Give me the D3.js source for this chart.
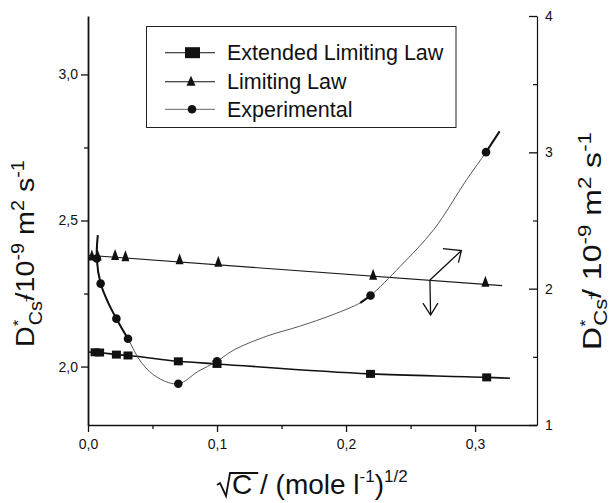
<!DOCTYPE html>
<html>
<head>
<meta charset="utf-8">
<script src="https://cdn.jsdelivr.net/npm/d3@7"></script>
<style>
  html, body { margin: 0; padding: 0; background: #fff; }
  svg { display: block; font-family: "Liberation Sans", Arial, sans-serif; }
</style>
</head>
<body>
<svg id="chart" width="614" height="503"></svg>
<script>
// ---- data: sqrt(C) in (mol/l)^1/2, D* in 1e-9 m^2/s ----
const extX = [0.0055, 0.009, 0.022, 0.031, 0.070, 0.100, 0.219, 0.309];
const extY = [2.049, 2.048, 2.041, 2.038, 2.018, 2.009, 1.975, 1.963];
const extLineX = [0, 0.0055, 0.009, 0.022, 0.031, 0.070, 0.100, 0.219, 0.309, 0.327];
const extLineY = [2.050, 2.049, 2.048, 2.041, 2.038, 2.018, 2.009, 1.975, 1.963, 1.960];

const limX = [0.003, 0.0075, 0.021, 0.029, 0.071, 0.101, 0.221, 0.308];
const limY = [2.378, 2.378, 2.380, 2.376, 2.365, 2.357, 2.312, 2.288];
const limLineX = [0, 0.321];
const limLineY = [2.381, 2.277];

const expX = [0.0068, 0.0098, 0.022, 0.031, 0.070, 0.100, 0.219, 0.3085];
const expY = [2.370, 2.284, 2.164, 2.095, 1.941, 2.018, 2.243, 2.734];
// smoothed curve drawn through the experimental points
const expCurveX = [0.0076, 0.0068, 0.0098, 0.0157, 0.022, 0.031, 0.0415, 0.0545, 0.070, 0.0855, 0.100, 0.1127, 0.1385, 0.164, 0.190, 0.211, 0.219, 0.242, 0.268, 0.2935, 0.3085, 0.319];
const expCurveY = [2.450, 2.370, 2.284, 2.218, 2.164, 2.095, 2.013, 1.961, 1.941, 1.984, 2.018, 2.056, 2.104, 2.138, 2.178, 2.218, 2.243, 2.343, 2.469, 2.640, 2.734, 2.805];

const xTicks = [0, 0.1, 0.2, 0.3];
const xMinor = [0.05, 0.15, 0.25];
const yLeftTicks = [2.0, 2.5, 3.0];
const yLeftMinor = [2.25, 2.75];
const yRightTicks = [1, 2, 3, 4];
const yRightMinor = [1.5, 2.5, 3.5];

const legendLabels = ["Extended Limiting Law", "Limiting Law", "Experimental"];

// ---- layout ----
const svg = d3.select("#chart");
const L = 88, R = 537, T = 16, B = 425;

const x = d3.scaleLinear().domain([0, 0.348]).range([L, R]);
const yL = d3.scaleLinear().domain([1.8, 3.2]).range([B, T]);
const yR = d3.scaleLinear().domain([1, 4]).range([B, T]);

const comma = d => d.toFixed(1).replace(".", ",");

function styleAxis(g, width) {
  g.select(".domain").attr("stroke", "#111").attr("stroke-width", width);
  g.selectAll(".tick line").attr("stroke", "#111").attr("stroke-width", 1.3);
  g.selectAll(".tick text").attr("fill", "#111").style("font-size", "14px")
    .style("font-family", "'Liberation Sans', Arial, sans-serif");
}

// bottom axis
const gx = svg.append("g").attr("transform", `translate(0,${B})`)
  .call(d3.axisBottom(x).tickValues(xTicks).tickFormat(comma).tickSize(7).tickSizeOuter(0).tickPadding(7));
styleAxis(gx, 1.6);
const gxm = svg.append("g").attr("transform", `translate(0,${B})`)
  .call(d3.axisBottom(x).tickValues(xMinor).tickFormat("").tickSize(4).tickSizeOuter(0));
gxm.select(".domain").remove();
gxm.selectAll(".tick line").attr("stroke", "#111").attr("stroke-width", 1.3);

// left axis
const gyl = svg.append("g").attr("transform", `translate(${L},0)`)
  .call(d3.axisLeft(yL).tickValues(yLeftTicks).tickFormat(comma).tickSize(7).tickSizeOuter(0).tickPadding(3));
styleAxis(gyl, 1.8);
const gylm = svg.append("g").attr("transform", `translate(${L},0)`)
  .call(d3.axisLeft(yL).tickValues(yLeftMinor).tickFormat("").tickSize(4).tickSizeOuter(0));
gylm.select(".domain").remove();
gylm.selectAll(".tick line").attr("stroke", "#111").attr("stroke-width", 1.3);

// right axis (ticks pointing inward)
const gyr = svg.append("g").attr("transform", `translate(${R},0)`)
  .call(d3.axisRight(yR).tickValues(yRightTicks).tickFormat(d3.format("d")).tickSize(-8).tickSizeOuter(0).tickPadding(8));
styleAxis(gyr, 1.2);
const gyrm = svg.append("g").attr("transform", `translate(${R},0)`)
  .call(d3.axisRight(yR).tickValues(yRightMinor).tickFormat("").tickSize(-4).tickSizeOuter(0));
gyrm.select(".domain").remove();
gyrm.selectAll(".tick line").attr("stroke", "#111").attr("stroke-width", 1.2);

// ---- series ----
const plot = svg.append("g");

const line = d3.line().x(d => x(d[0])).y(d => yL(d[1]));
const zip = (a, b) => a.map((v, i) => [v, b[i]]);

// Limiting law line
plot.append("path").datum(zip(limLineX, limLineY))
  .attr("d", line).attr("fill", "none").attr("stroke", "#1a1a1a").attr("stroke-width", 1.1);

// Extended limiting law line
plot.append("path").datum(zip(extLineX, extLineY))
  .attr("d", line.curve(d3.curveMonotoneX)).attr("fill", "none").attr("stroke", "#111").attr("stroke-width", 1.6);

// Experimental smooth curve (thin) with heavier stretches near the measured points
const expCurve = zip(expCurveX, expCurveY);
const smooth = d3.line().x(d => x(d[0])).y(d => yL(d[1])).curve(d3.curveCatmullRom.alpha(0.5));
plot.append("path").datum(expCurve)
  .attr("d", smooth).attr("fill", "none").attr("stroke", "#444").attr("stroke-width", 0.9);
[[0, 6], [15, 17], [20, 22]].forEach(([a, b]) => {
  plot.append("path").datum(expCurve.slice(a, b))
    .attr("d", smooth).attr("fill", "none").attr("stroke", "#111").attr("stroke-width", 2);
});

// markers
const tri = (cx, cy, w, h) => `M${cx},${cy - h * 0.6}L${cx + w / 2},${cy + h * 0.4}L${cx - w / 2},${cy + h * 0.4}Z`;

plot.selectAll("rect.ext").data(zip(extX, extY)).join("rect").attr("class", "ext")
  .attr("x", d => x(d[0]) - 4.5).attr("y", d => yL(d[1]) - 4)
  .attr("width", 9).attr("height", 8).attr("fill", "#111");

plot.selectAll("path.lim").data(zip(limX, limY)).join("path").attr("class", "lim")
  .attr("d", d => tri(x(d[0]), yL(d[1]), 8, 11)).attr("fill", "#111");

plot.selectAll("circle.exp").data(zip(expX, expY)).join("circle").attr("class", "exp")
  .attr("cx", d => x(d[0])).attr("cy", d => yL(d[1])).attr("r", 4.3).attr("fill", "#111");

// arrows pointing to each series' axis
const ax0 = x(0.265), ay0 = yL(2.296);
const arrows = svg.append("g").attr("fill", "none").attr("stroke", "#111").attr("stroke-width", 1.3);
arrows.append("path").attr("d",
  `M${ax0},${ay0}L${ax0 + 31.5},${ay0 - 29.5}M${ax0 + 13},${ay0 - 31.5}L${ax0 + 31.5},${ay0 - 29.5}L${ax0 + 28.5},${ay0 - 17.5}`);
arrows.append("path").attr("d",
  `M${ax0},${ay0}L${ax0 + 0.7},${ay0 + 35}M${ax0 - 7},${ay0 + 23}L${ax0 + 0.7},${ay0 + 35}L${ax0 + 8},${ay0 + 23}`);

// ---- legend ----
const lg = svg.append("g");
lg.append("rect").attr("x", 146.5).attr("y", 26.5).attr("width", 309.5).attr("height", 101)
  .attr("fill", "#fff").attr("stroke", "#222").attr("stroke-width", 1);
const rows = [52.7, 81.7, 109.3];
legendLabels.forEach((lab, i) => {
  const cy = rows[i];
  lg.append("line").attr("x1", 165).attr("x2", 215).attr("y1", cy).attr("y2", cy)
    .attr("stroke", i === 2 ? "#555" : "#111").attr("stroke-width", i === 2 ? 0.9 : 1.1);
  if (i === 0) lg.append("rect").attr("x", 185).attr("y", cy - 5.5).attr("width", 15).attr("height", 11).attr("fill", "#111");
  if (i === 1) lg.append("path").attr("d", tri(191, cy, 9, 10)).attr("fill", "#111");
  if (i === 2) lg.append("circle").attr("cx", 192).attr("cy", cy).attr("r", 4.3).attr("fill", "#111");
  lg.append("text").attr("x", 227).attr("y", cy + 7.5).text(lab)
    .style("font-size", "21.5px").attr("fill", "#111");
});

// ---- axis titles ----
// rotated title, stretched along its run so it spans the given length
function titleY(tx, ty, spaced, span, subDrop) {
  const g = svg.append("g");
  const t = g.append("text").style("font-size", "26px").attr("fill", "#111");
  t.append("tspan").text("D");
  t.append("tspan").attr("dy", -11).style("font-size", "15px").text("*");
  t.append("tspan").attr("dx", -5).attr("dy", 11 + subDrop).style("font-size", "18px").text("Cs");
  t.append("tspan").attr("dx", -1).attr("dy", -11).style("font-size", "13px").text("+");
  t.append("tspan").attr("dx", -6).attr("dy", 11 - subDrop).text(spaced ? "/ 10" : "/10");
  t.append("tspan").attr("dy", -10).style("font-size", "18px").text("-9");
  t.append("tspan").attr("dy", 10).text(" m");
  t.append("tspan").attr("dy", -10).style("font-size", "18px").text("2");
  t.append("tspan").attr("dy", 10).text(" s");
  t.append("tspan").attr("dy", -10).style("font-size", "18px").text("-1");
  const w = t.node().getBBox().width;
  g.attr("transform", `translate(${tx},${ty}) rotate(-90) scale(${span / w},1)`);
}
titleY(34, 347, false, 187, 8);
titleY(601, 350, true, 218, 6);

// x title: sqrt(C) / (mole l^-1)^1/2
const xt = svg.append("text").attr("x", 232).attr("y", 494).style("font-size", "28px").attr("fill", "#111");
xt.append("tspan").text("C / (mole l");
xt.append("tspan").attr("dy", -12).style("font-size", "17px").text("-1");
xt.append("tspan").attr("dy", 12).text(")");
xt.append("tspan").attr("dy", -12).style("font-size", "17px").text("1/2");
// radical sign over the C
const cBox = xt.node().getExtentOfChar(0);
const radX = cBox.x, radTop = cBox.y + 4, radBot = 496;
svg.append("path")
  .attr("d", `M${radX - 15},${radBot - 11}L${radX - 12},${radBot - 13}L${radX - 6},${radBot}L${radX - 2},${radTop}L${radX + cBox.width + 6},${radTop}`)
  .attr("fill", "none").attr("stroke", "#111").attr("stroke-width", 1.8);
</script>
</body>
</html>
